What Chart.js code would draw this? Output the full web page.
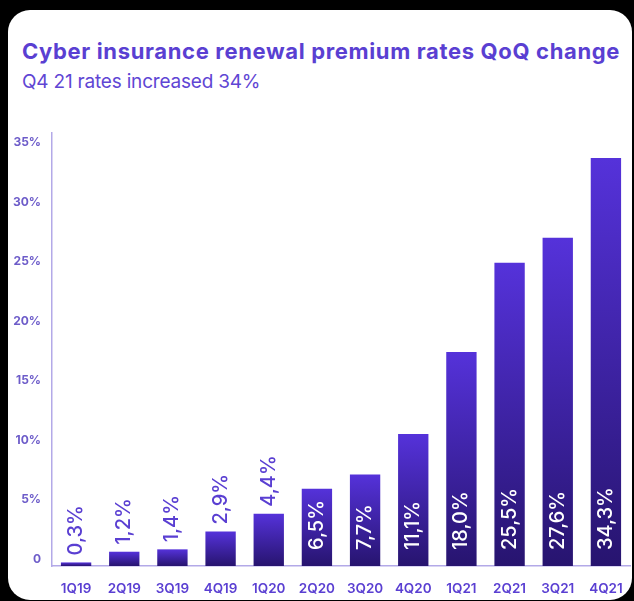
<!DOCTYPE html>
<html>
<head>
<meta charset="utf-8">
<script src="https://cdn.jsdelivr.net/npm/chart.js@4"></script>
<style>
  html, body { margin: 0; padding: 0; background: #000; overflow: hidden; }
  body { width: 634px; height: 601px; position: relative; font-family: "Inter", "Noto Sans", sans-serif; }
  .card {
    position: absolute; left: 8px; top: 10px; width: 624px; height: 590px;
    background: #fff; border-radius: 22px;
  }
  .title {
    position: absolute; left: 22px; top: 38px; white-space: nowrap;
    font-size: 22px; font-weight: 700; color: #5a3fd2; letter-spacing: 0.65px;
  }
  .subtitle {
    position: absolute; left: 22px; top: 70px; white-space: nowrap;
    font-size: 19px; font-weight: 400; color: #5f46d4; letter-spacing: -0.2px;
  }
  #wrap { position: absolute; left: 0; top: 0; width: 634px; height: 601px; }
</style>
</head>
<body>
<div class="card"></div>
<div class="title">Cyber insurance renewal premium rates QoQ change</div>
<div class="subtitle">Q4 21 rates increased 34%</div>
<div id="wrap"><canvas id="rateChart"></canvas></div>
<script>
// 분기 라벨과 변화율 (%)
const quarters = ["1Q19", "2Q19", "3Q19", "4Q19", "1Q20", "2Q20", "3Q20", "4Q20", "1Q21", "2Q21", "3Q21", "4Q21"];
const rateChange = [0.3, 1.2, 1.4, 2.9, 4.4, 6.5, 7.7, 11.1, 18.0, 25.5, 27.6, 34.3];
const rateLabels = ["0,3%", "1,2%", "1,4%", "2,9%", "4,4%", "6,5%", "7,7%", "11,1%", "18,0%", "25,5%", "27,6%", "34,3%"];

// 막대마다 위에서 아래로 그라데이션
function barGradient(ctx) {
  const chart = ctx.chart;
  if (!chart.chartArea || ctx.raw === undefined) return "#4428b8";
  const y = chart.scales.y;
  const top = y.getPixelForValue(ctx.raw);
  const bottom = y.getPixelForValue(0);
  const g = chart.ctx.createLinearGradient(0, top, 0, bottom);
  g.addColorStop(0, "#5532da");
  g.addColorStop(1, "#27146f");
  return g;
}

// 세로로 돌린 값 라벨 그리기
const valueLabels = {
  id: "valueLabels",
  afterDatasetsDraw(chart) {
    const ctx = chart.ctx;
    const meta = chart.getDatasetMeta(0);
    ctx.save();
    ctx.font = "500 20px Inter, 'Noto Sans', sans-serif";
    ctx.textBaseline = "middle";
    ctx.textAlign = "left";
    meta.data.forEach((bar, i) => {
      const inside = rateChange[i] >= 6;
      const yStart = inside ? bar.base - 16 : bar.y - 7;
      ctx.fillStyle = inside ? "#ffffff" : "#5a3fd2";
      ctx.save();
      ctx.translate(bar.x, yStart);
      ctx.rotate(-Math.PI / 2);
      ctx.fillText(rateLabels[i], 0, 0);
      ctx.restore();
    });
    ctx.restore();
  },
};

const chart = new Chart(document.getElementById("rateChart").getContext("2d"), {
  type: "bar",
  data: {
    labels: quarters,
    datasets: [
      {
        data: rateChange,
        backgroundColor: barGradient,
        barPercentage: 0.63,
        categoryPercentage: 1,
      },
    ],
  },
  options: {
    responsive: true,
    maintainAspectRatio: false,
    animation: false,
    layout: { padding: { left: 0, right: 4, top: 133, bottom: 0 } },
    plugins: { legend: { display: false }, tooltip: { enabled: false } },
    scales: {
      x: {
        grid: { display: false },
        border: { display: true, color: "#b3a9e8", width: 1.5 },
        ticks: {
          color: "#5a3fd2",
          font: { family: "Inter", size: 13.5, weight: "600" },
          padding: 7,
          maxRotation: 0,
          autoSkip: false,
        },
        afterFit(scale) { scale.height = 35; },
      },
      y: {
        min: 0,
        max: 36.4,
        grid: { display: false },
        border: { display: true, color: "#b3a9e8", width: 1.5 },
        ticks: {
          stepSize: 5,
          color: "#6d5cc9",
          font: { family: "Inter", size: 12, weight: "700" },
          padding: 3,
          labelOffset: -7,
          callback: (v) => (v % 5 === 0 ? (v === 0 ? "0" : v + "%") : null),
        },
        afterFit(scale) { scale.width = 52; },
      },
    },
  },
  plugins: [valueLabels],
});
</script>
</body>
</html>
